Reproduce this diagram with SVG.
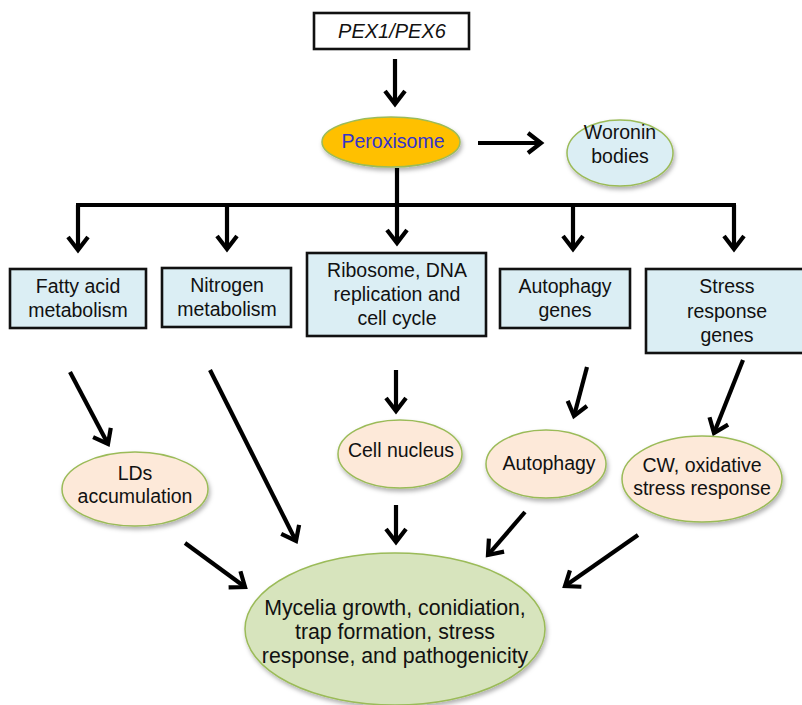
<svg xmlns="http://www.w3.org/2000/svg" width="802" height="705" viewBox="0 0 802 705">
<defs>
<marker id="ah" viewBox="-20 -15 30 30" markerWidth="30" markerHeight="30" refX="0" refY="0" orient="auto" markerUnits="userSpaceOnUse" overflow="visible">
<path d="M -13 -10 L 0 0 L -13 10" fill="none" stroke="#000" stroke-width="4.2" stroke-linejoin="miter"/>
</marker>
<filter id="sh" x="-20%" y="-20%" width="140%" height="150%">
<feDropShadow dx="1.5" dy="3" stdDeviation="2" flood-color="#000" flood-opacity="0.3"/>
</filter>
</defs>
<style>
text{font-family:"Liberation Sans",Arial,sans-serif;font-size:19.5px;fill:#111;text-anchor:middle}
text.big{font-size:21.3px}
text.pex{font-size:20px;font-style:italic}
.box{fill:#dbeef4;stroke:#111;stroke-width:2.6}
.ell{stroke:#9bbb59;stroke-width:1.5;filter:url(#sh)}
.conn line{stroke:#000;stroke-width:4.2;fill:none}
.arr{marker-end:url(#ah)}
</style>
<rect width="802" height="705" fill="#fff"/>
<g id="connectors" class="conn">
<line class="arr" x1="395" y1="59" x2="395" y2="104"/>
<line class="arr" x1="478" y1="143" x2="541" y2="143"/>
<line x1="76" y1="205" x2="736" y2="205"/>
<line x1="397" y1="168" x2="397" y2="205"/>
<line class="arr" x1="78" y1="205" x2="78" y2="250"/>
<line class="arr" x1="227" y1="205" x2="227" y2="249"/>
<line class="arr" x1="397" y1="205" x2="397" y2="243"/>
<line class="arr" x1="573" y1="205" x2="573" y2="249"/>
<line class="arr" x1="734" y1="205" x2="734" y2="249"/>
<line class="arr" x1="70" y1="372" x2="108" y2="444"/>
<line class="arr" x1="210" y1="370" x2="296" y2="541"/>
<line class="arr" x1="185" y1="543" x2="245" y2="587"/>
<line class="arr" x1="396" y1="370" x2="396" y2="411"/>
<line class="arr" x1="396" y1="505" x2="396" y2="542"/>
<line class="arr" x1="587" y1="367" x2="574" y2="416"/>
<line class="arr" x1="525" y1="512" x2="488" y2="555"/>
<line class="arr" x1="743" y1="360" x2="714" y2="433"/>
<line class="arr" x1="638" y1="535" x2="565" y2="586"/>
</g>
<g id="pex">
<rect x="314" y="13" width="155" height="36" fill="#fff" stroke="#111" stroke-width="2.6"/>
<text class="pex" x="392" y="38">PEX1/PEX6</text>
</g>
<g id="peroxisome">
<ellipse class="ell" cx="391" cy="142" rx="69" ry="25" fill="#ffc000"/>
<text x="393" y="148" style="fill:#3333cc">Peroxisome</text>
</g>
<g id="woronin">
<ellipse class="ell" cx="620" cy="153" rx="53" ry="33" fill="#dbeef4"/>
<text x="620" y="139">Woronin</text>
<text x="620" y="163">bodies</text>
</g>
<g id="fatty">
<rect class="box" x="10" y="269" width="136" height="59"/>
<text x="78" y="293">Fatty acid</text>
<text x="78" y="317">metabolism</text>
</g>
<g id="nitrogen">
<rect class="box" x="162" y="268" width="129" height="59"/>
<text x="227" y="292">Nitrogen</text>
<text x="227" y="316">metabolism</text>
</g>
<g id="ribosome">
<rect class="box" x="307" y="253" width="179" height="83"/>
<text x="397" y="277">Ribosome, DNA</text>
<text x="397" y="301">replication and</text>
<text x="397" y="325">cell cycle</text>
</g>
<g id="autophagy-genes">
<rect class="box" x="500" y="269" width="130" height="59"/>
<text x="565" y="293">Autophagy</text>
<text x="565" y="317">genes</text>
</g>
<g id="stress-genes">
<rect class="box" x="646" y="269" width="160" height="84"/>
<text x="727" y="293">Stress</text>
<text x="727" y="318">response</text>
<text x="727" y="342">genes</text>
</g>
<g id="lds">
<ellipse class="ell" cx="135" cy="489" rx="73" ry="37" fill="#fde9d9"/>
<text x="135" y="480">LDs</text>
<text x="135" y="503">accumulation</text>
</g>
<g id="nucleus">
<ellipse class="ell" cx="400" cy="454" rx="62" ry="34" fill="#fde9d9"/>
<text x="401" y="457">Cell nucleus</text>
</g>
<g id="autophagy">
<ellipse class="ell" cx="546" cy="464" rx="60" ry="34" fill="#fde9d9"/>
<text x="549" y="470">Autophagy</text>
</g>
<g id="cw">
<ellipse class="ell" cx="702" cy="479" rx="80" ry="43" fill="#fde9d9"/>
<text x="702" y="472">CW, oxidative</text>
<text x="702" y="495">stress response</text>
</g>
<g id="mycelia">
<ellipse class="ell" cx="395" cy="629" rx="150" ry="76" fill="#d7e4bd"/>
<text class="big" x="395" y="615">Mycelia growth, conidiation,</text>
<text class="big" x="395" y="639">trap formation, stress</text>
<text class="big" x="395" y="663">response, and pathogenicity</text>
</g>
</svg>
